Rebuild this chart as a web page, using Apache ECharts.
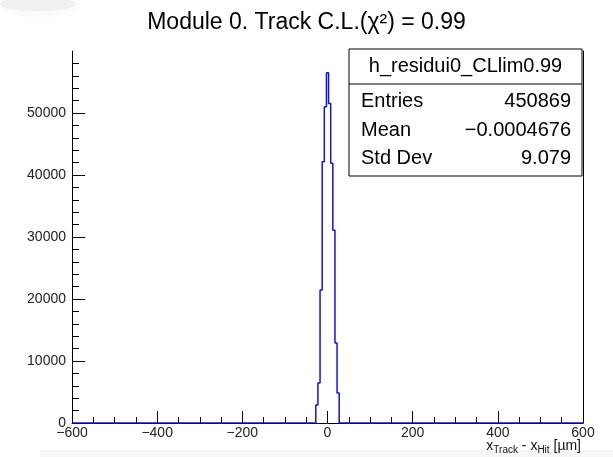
<!DOCTYPE html>
<html>
<head>
<meta charset="utf-8">
<script src="https://cdn.jsdelivr.net/npm/echarts@6/dist/echarts.min.js"></script>
<style>
  html, body { margin: 0; padding: 0; background: #fff; }
  #chart { width: 613px; height: 457px; }
</style>
</head>
<body>
<div id="chart"></div>
<script>
// Residual histogram: 5 µm bins centred on zero, only the occupied ones are listed
const binEdges = [-27.5, -22.5, -17.5, -12.5, -7.5, -2.5, 2.5, 7.5, 12.5, 17.5, 22.5, 27.5];
const binCounts = [2900, 6450, 21450, 42150, 51000, 56500, 51550, 41900, 31100, 12900, 4850];

const xRange = [-600, 600];
const xTickStep = 200;
const yRange = [0, 60000];
const yTickStep = 10000;
const yLabelValues = [0, 10000, 20000, 30000, 40000, 50000];

const histName = 'h_residui0_CLlim0.99';
const statNames = ['Entries', 'Mean', 'Std Dev'];
const statValues = ['450869', '\u22120.0004676', '9.079'];

// Outline of the histogram as a step line (empty bins sit on zero)
const outline = [[xRange[0], 0]];
binCounts.forEach((c, i) => outline.push([binEdges[i], c]));
outline.push([binEdges[binEdges.length - 1], 0]);
outline.push([xRange[1], 0]);

const FONT = '"Liberation Sans", Arial, Helvetica, sans-serif';
const minus = v => String(v).replace('-', '\u2212');

const chart = echarts.init(document.getElementById('chart'), null, { renderer: 'canvas' });

const boxL = 349, boxR = 582, boxT = 49, boxB = 176, sepY = 84;
const rowY = [101, 130, 158];

const graphics = [
  // soft grey smudge in the top-left corner of the canvas
  { type: 'ellipse', shape: { cx: 38, cy: 4, rx: 38, ry: 7 },
    style: { fill: '#f1f1f1', shadowBlur: 14, shadowColor: '#f1f1f1' }, z: 0, silent: true },
  { type: 'rect', shape: { x: 40, y: 450, width: 573, height: 7 },
    style: { fill: '#f7f7f7' }, z: 0, silent: true },
  { type: 'rect', shape: { x: boxL, y: boxT, width: boxR - boxL, height: boxB - boxT },
    style: { fill: '#fff', stroke: '#000', lineWidth: 1 }, z: 10 },
  { type: 'line', shape: { x1: boxL, y1: sepY, x2: boxR, y2: sepY },
    style: { stroke: '#000', lineWidth: 1 }, z: 11 },
  { type: 'text', x: (boxL + boxR) / 2, y: (boxT + sepY) / 2, z: 11,
    style: { text: histName, font: '20px ' + FONT, fill: '#000', align: 'center', verticalAlign: 'middle' } }
];
statNames.forEach((n, i) => {
  graphics.push({ type: 'text', x: boxL + 12, y: rowY[i], z: 11,
    style: { text: n, font: '20px ' + FONT, fill: '#000', align: 'left', verticalAlign: 'middle' } });
  graphics.push({ type: 'text', x: boxR - 11, y: rowY[i], z: 11,
    style: { text: statValues[i], font: '20px ' + FONT, fill: '#000', align: 'right', verticalAlign: 'middle' } });
});
// axis title with subscripts
graphics.push({ type: 'text', x: 581, y: 446, z: 11,
  style: {
    text: '{m|x}{s|Track}{m| - x}{s|Hit}{m| [\u00b5m]}',
    align: 'right', verticalAlign: 'middle',
    rich: {
      m: { font: '14px ' + FONT, fill: '#111' },
      s: { font: '10px ' + FONT, fill: '#111', padding: [9, 0, 0, 0] }
    }
  } });

chart.setOption({
  animation: false,
  backgroundColor: '#fff',
  title: {
    text: 'Module 0. Track C.L.(\u03c7\u00b2) = 0.99',
    left: 'center', top: 6,
    textStyle: { fontFamily: FONT, fontSize: 23, fontWeight: 'normal', color: '#000' }
  },
  grid: { left: 72, right: 30, top: 51, bottom: 34, show: false },
  xAxis: {
    type: 'value', min: xRange[0], max: xRange[1], interval: xTickStep,
    axisLine: { show: true, onZero: false, lineStyle: { color: '#000', width: 1 } },
    axisTick: { show: true, inside: true, length: 12, lineStyle: { color: '#000' } },
    minorTick: { show: true, splitNumber: 4, length: 6, lineStyle: { color: '#000' } },
    splitLine: { show: false },
    axisLabel: { fontFamily: FONT, fontSize: 14, color: '#222', margin: 3, formatter: minus }
  },
  yAxis: [{
    type: 'value', min: yRange[0], max: yRange[1], interval: yTickStep,
    axisLine: { show: true, onZero: false, lineStyle: { color: '#000', width: 1 } },
    axisTick: { show: true, inside: true, length: 13, customValues: yLabelValues, lineStyle: { color: '#000' } },
    minorTick: { show: true, splitNumber: 5, length: 7, lineStyle: { color: '#000' } },
    splitLine: { show: false },
    axisLabel: { fontFamily: FONT, fontSize: 14, color: '#222', margin: 6, customValues: yLabelValues,
      formatter: v => String(v) }
  }, {
    // right edge of the frame
    type: 'value', position: 'right', min: yRange[0], max: yRange[1], interval: yTickStep,
    axisLine: { show: true, onZero: false, lineStyle: { color: '#000', width: 1 } },
    axisTick: { show: false }, axisLabel: { show: false }, splitLine: { show: false }
  }],
  series: [{
    type: 'line', step: 'end', data: outline, symbol: 'none',
    lineStyle: { color: '#1414c8', width: 1.5 }, z: 5
  }],
  graphic: graphics
});
</script>
</body>
</html>
